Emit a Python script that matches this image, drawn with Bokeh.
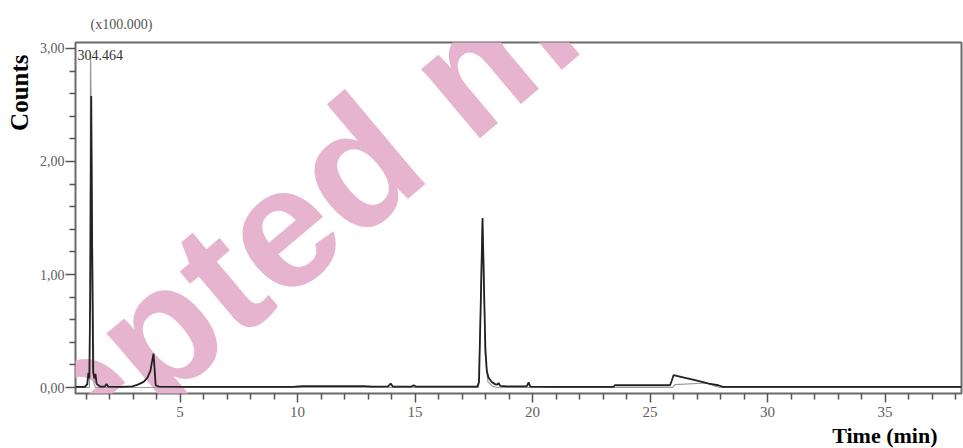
import math
from bokeh.plotting import figure
from bokeh.models import Label, FixedTicker, Range1d, Title
from bokeh.embed import file_html
from bokeh.resources import INLINE

# ---------------- data ----------------
tic_time = [0.55, 0.95, 1.05, 1.10, 1.14, 1.18, 1.22, 1.26, 1.30, 1.35, 1.40, 1.45,
            1.60, 1.80, 1.87, 1.94, 2.50, 2.97, 3.20, 3.45, 3.62, 3.74, 3.80, 3.87,
            3.91, 3.96, 4.10, 6.0, 9.8, 10.2, 12.8, 13.2, 13.85, 13.96, 14.05, 14.85,
            14.94, 15.03, 17.65, 17.72, 17.80, 17.87, 17.93, 17.99, 18.05, 18.12, 18.25,
            18.40, 18.50, 18.55, 18.62, 18.90, 19.75, 19.83, 19.90, 21.0, 23.45, 23.5,
            25.85, 25.92, 26.00, 26.40, 27.00, 27.50, 27.90, 28.10, 32.0, 38.25]
tic_counts = [0.005, 0.005, 0.03, 0.13, 0.08, 0.9, 2.58, 1.2, 0.14, 0.08, 0.12, 0.03,
              0.008, 0.008, 0.03, 0.008, 0.006, 0.01, 0.025, 0.05, 0.09, 0.15, 0.22, 0.30,
              0.18, 0.02, 0.008, 0.006, 0.006, 0.012, 0.012, 0.008, 0.01, 0.035, 0.008, 0.008,
              0.02, 0.008, 0.008, 0.05, 0.8, 1.50, 0.9, 0.35, 0.15, 0.09, 0.05,
              0.03, 0.025, 0.04, 0.015, 0.01, 0.01, 0.045, 0.008, 0.006, 0.006, 0.02,
              0.02, 0.06, 0.11, 0.09, 0.06, 0.035, 0.02, 0.006, 0.006, 0.006]

ion_time = [0.55, 1.14, 1.17, 1.19, 1.23, 1.30, 1.34, 1.40, 17.70, 17.78, 17.86, 17.92,
            17.98, 18.10, 18.30, 18.50, 25.95, 26.05, 27.40, 27.80, 28.0, 38.25]
ion_counts = [0.0, 0.0, 1.5, 2.95, 2.2, 0.6, 0.03, 0.0, 0.0, 0.6, 1.47, 1.1,
              0.3, 0.05, 0.01, 0.0, 0.0, 0.025, 0.04, 0.01, 0.0, 0.0]

x_major = [5, 10, 15, 20, 25, 30, 35]
x_minor = [1, 2, 3, 4, 6, 7, 8, 9, 11, 12, 13, 14, 16, 17, 18, 19, 21, 22, 23, 24,
           26, 27, 28, 29, 31, 32, 33, 34, 36, 37, 38]
y_major = [0, 1, 2, 3]
y_major_labels = ["0,00", "1,00", "2,00", "3,00"]
y_minor = [0.2, 0.4, 0.6, 0.8, 1.2, 1.4, 1.6, 1.8, 2.2, 2.4, 2.6, 2.8]

peak_label = "304.464"
scale_label = "(x100.000)"
y_title = "Counts"
x_title = "Time (min)"
watermark = "Accepted manuscript"

# ---------------- figure ----------------
X0, X1 = 0.55, 38.25
Y0, Y1 = -0.053, 3.053

p = figure(width=963, height=448, output_backend="svg", toolbar_location=None,
           x_range=Range1d(X0, X1), y_range=Range1d(Y0, Y1),
           min_border_left=75, min_border_right=2, min_border_top=42, min_border_bottom=55)
p.background_fill_color = "white"
p.border_fill_color = "white"
p.outline_line_color = "#6a6a6a"
p.outline_line_width = 2
p.xgrid.visible = False
p.ygrid.visible = False

# watermark (beneath everything), canvas pixel units
p.add_layout(Label(x=-198, y=628, x_units="canvas", y_units="canvas",
                   text=watermark, angle=math.radians(40),
                   text_font="Liberation Sans", text_font_style="bold",
                   text_font_size="172px", text_color="#e6b4cf",
                   text_align="left", text_baseline="alphabetic", level="underlay"))

p.line(ion_time, ion_counts, line_color="#9a9a9a", line_width=1.2)
p.line(tic_time, tic_counts, line_color="#222222", line_width=1.8)

xa = p.xaxis[0]
xa.ticker = FixedTicker(ticks=x_major, minor_ticks=x_minor)
xa.axis_line_color = None
xa.major_tick_in = 0
xa.major_tick_out = 9
xa.minor_tick_in = 0
xa.minor_tick_out = 6
xa.major_tick_line_color = "#555555"
xa.minor_tick_line_color = "#555555"
xa.major_tick_line_width = 1.5
xa.minor_tick_line_width = 1.5
xa.major_label_text_font = "Liberation Serif"
xa.major_label_text_font_size = "15px"
xa.major_label_text_color = "#5e5e5e"
xa.major_label_standoff = 4

ya = p.yaxis[0]
ya.ticker = FixedTicker(ticks=y_major, minor_ticks=y_minor)
ya.major_label_overrides = {v: s for v, s in zip(y_major, y_major_labels)}
ya.axis_line_color = None
ya.major_tick_in = 0
ya.major_tick_out = 10
ya.minor_tick_in = 0
ya.minor_tick_out = 6
ya.major_tick_line_color = "#555555"
ya.minor_tick_line_color = "#555555"
ya.major_tick_line_width = 1.5
ya.minor_tick_line_width = 1.5
ya.major_label_text_font = "Liberation Serif"
ya.major_label_text_font_size = "14px"
ya.major_label_text_color = "#5e5e5e"
ya.major_label_standoff = 1

# texts outside the frame as titles
p.add_layout(Title(text=scale_label, align="left", offset=15, standoff=21,
                   text_font="Liberation Serif", text_font_style="normal",
                   text_font_size="14px", text_color="#555555"), "above")
p.add_layout(Title(text=y_title, align="right", offset=12, standoff=7,
                   text_font="Liberation Serif", text_font_style="bold",
                   text_font_size="25px", text_color="#000000"), "left")
p.add_layout(Title(text=x_title, align="right", offset=24, standoff=2,
                   text_font="Liberation Serif", text_font_style="bold",
                   text_font_size="22px", text_color="#000000"), "below")

# peak annotation inside the frame
p.add_layout(Label(x=0.64, y=2.94, text=peak_label, text_font="Liberation Serif",
                   text_font_size="14px", text_color="#333333",
                   text_align="left", text_baseline="middle"))

open("out.html", "w").write(file_html(p, INLINE))
